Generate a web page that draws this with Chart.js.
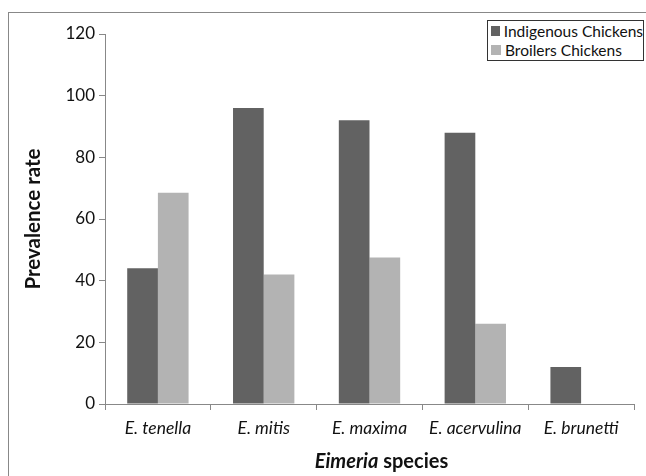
<!DOCTYPE html>
<html>
<head>
<meta charset="utf-8">
<script src="https://cdn.jsdelivr.net/npm/chart.js@4/dist/chart.umd.min.js"></script>
<style>
  body { margin: 0; background: #fff; font-family: Lato, "Noto Sans", sans-serif; }
  #wrap { position: relative; width: 646px; height: 476px; overflow: hidden; }
  #frame { position: absolute; left: 8px; top: 12px; width: 700px; height: 520px; border: 1px solid #888; }
  #legend { position: absolute; left: 487px; top: 20px; width: 157px; height: 41px; border: 1px solid #333; background: #fff;
            font-size: 15.5px; color: #111; padding: 0 0 0 3px; box-sizing: border-box; white-space: nowrap; }
  #legend div { display: flex; align-items: center; height: 19.5px; }
  #legend span.sw { width: 10px; height: 10px; margin-right: 4px; display: inline-block; }
  #xtitle { position: absolute; left: 117px; width: 529px; top: 448px; text-align: center; font-weight: bold; font-size: 20px; color: #111; }
</style>
</head>
<body>
<div id="wrap">
  <div id="frame"></div>
  <canvas id="chart" width="646" height="476"></canvas>
  <div id="legend"></div>
  <div id="xtitle"><i>Eimeria</i> species</div>
</div>
<script>
// === Data ===
const species = ['E. tenella', 'E. mitis', 'E. maxima', 'E. acervulina', 'E. brunetti'];
const indigenous = [44, 96, 92, 88, 12];
const broilers = [68.5, 42, 47.5, 26, null];
const seriesNames = ['Indigenous Chickens', 'Broilers Chickens'];
const yTicks = [0, 20, 40, 60, 80, 100, 120];

const colors = ['#626262', '#b3b3b3'];
const tickFont = { family: 'Lato, "Noto Sans", sans-serif', size: 16 };

// legend drawn as html
document.getElementById('legend').innerHTML = seriesNames.map((name, i) => `
  <div><span class="sw" style="background:${colors[i]}"></span>${name}</div>
`).join('');

const ctx = document.getElementById('chart').getContext('2d');
new Chart(ctx, {
  type: 'bar',
  data: {
    labels: species,
    datasets: [
      { label: seriesNames[0], data: indigenous, backgroundColor: colors[0] },
      { label: seriesNames[1], data: broilers, backgroundColor: colors[1] }
    ]
  },
  options: {
    responsive: false,
    animation: false,
    layout: { padding: { top: 34, right: 12, left: 0, bottom: 0 } },
    datasets: { bar: { categoryPercentage: 0.58, barPercentage: 1 } },
    plugins: { legend: { display: false }, tooltip: { enabled: false } },
    scales: {
      x: {
        grid: { drawOnChartArea: false, color: '#888', tickLength: 6 },
        border: { color: '#888' },
        ticks: { color: '#111', font: { ...tickFont, style: 'italic', size: 17.5 }, padding: 8, maxRotation: 0 },
        afterFit: scale => { scale.height = 72; }
      },
      y: {
        min: 0,
        max: 120,
        afterBuildTicks: scale => { scale.ticks = yTicks.map(v => ({ value: v })); },
        grid: { drawOnChartArea: false, color: '#888', tickLength: 6 },
        border: { color: '#888' },
        ticks: { color: '#111', font: { ...tickFont, size: 17 }, padding: 4 },
        title: { display: true, text: 'Prevalence rate', color: '#111', font: { ...tickFont, size: 20.5, weight: 'bold' }, padding: { top: 21, bottom: 0 } },
        afterFit: scale => { scale.width = 105; }
      }
    }
  }
});
</script>
</body>
</html>
